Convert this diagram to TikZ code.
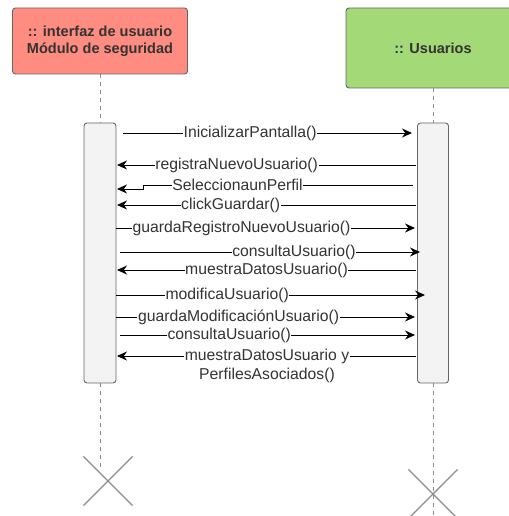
\documentclass[tikz,border=0pt]{standalone}
\usepackage{fontspec}
\setmainfont{Liberation Sans}
\usetikzlibrary{arrows.meta,shapes.misc}

\newlength{\du}
\setlength{\du}{0.75pt}

\definecolor{rojoobj}{HTML}{FF8C80}
\definecolor{verdeobj}{HTML}{A3D977}
\definecolor{bordegris}{HTML}{666666}
\definecolor{barragris}{HTML}{F3F3F3}
\definecolor{vidagris}{HTML}{8C8C8C}
\definecolor{textogris}{HTML}{333333}

\tikzset{
  objeto/.style={draw=bordegris, line width=0.9\du, rounded corners=3\du, inner sep=0pt,
    align=center, text=textogris, font=\fontsize{10.9pt}{12.8pt}\selectfont\bfseries},
  activacion/.style={draw=bordegris, fill=barragris, line width=0.9\du, rounded corners=3\du,
    minimum width=32\du, minimum height=260\du, inner sep=0pt},
  vida/.style={draw=vidagris, line width=0.8\du, dash pattern=on 4\du off 4\du},
  fin/.style={cross out, draw=vidagris, line width=1.2\du, minimum size=48\du, inner sep=0pt},
  mensaje/.style={draw=black, line width=0.9\du, -{Stealth[length=7.5pt,width=6.75pt]}},
  etiqueta/.style={fill=white, inner sep=0.6\du, text=textogris,
    font=\fontsize{11.8pt}{14.2pt}\selectfont},
}

\begin{document}
\begin{tikzpicture}
\pgftransformxscale{1.000000}
\pgftransformyscale{-1.000000}
\useasboundingbox (0\du,0\du) rectangle (508\du,516\du);
% objetos
\node[objeto, fill=rojoobj, minimum width=175\du, minimum height=66\du] (objInterfaz) at (100\du,41\du){:: interfaz de usuario\\Módulo de seguridad};
\node[objeto, fill=verdeobj, minimum width=174\du, minimum height=80\du] (objUsuarios) at (433\du,48\du){:: Usuarios};
% lineas de vida
\node[activacion] (actInterfaz) at (100\du,253\du){};
\node[activacion, minimum width=31\du] (actUsuarios) at (433\du,253\du){};
\coordinate (vidaFinI) at (100\du,468\du);
\coordinate (vidaFinU) at (433\du,520\du);
\draw[vida] (objInterfaz.south) -- (actInterfaz.north);
\draw[vida] (actInterfaz.south) -- (vidaFinI);
\draw[vida] (objUsuarios.south) -- (actUsuarios.north);
\draw[vida] (actUsuarios.south) -- (vidaFinU);
\node[fin] (finInterfaz) at (108\du,481\du){};
\node[fin] (finUsuarios) at (433\du,494\du){};
% mensajes
\coordinate (m1a) at (123\du,133\du);
\coordinate (m1b) at (412\du,133\du);
\draw[mensaje] (m1a) -- node[etiqueta, pos=0.44] (t1){InicializarPantalla()} (m1b);
\coordinate (m2a) at (416\du,165\du);
\coordinate (m2b) at (117\du,165\du);
\draw[mensaje] (m2a) -- node[etiqueta, pos=0.60] (t2){registraNuevoUsuario()} (m2b);
\coordinate (m3a) at (413\du,185\du);
\coordinate (m3k) at (143\du,185\du);
\coordinate (m3b) at (117\du,189\du);
\draw[mensaje] (m3a) -- node[etiqueta, pos=0.65] (t3){SeleccionaunPerfil} (m3k) |- (m3b);
\coordinate (m4a) at (416\du,205\du);
\coordinate (m4b) at (117\du,205\du);
\draw[mensaje] (m4a) -- node[etiqueta, pos=0.62] (t4){clickGuardar()} (m4b);
\coordinate (m5a) at (116\du,228\du);
\coordinate (m5b) at (415\du,228\du);
\draw[mensaje] (m5a) -- node[etiqueta, pos=0.42] (t5){guardaRegistroNuevoUsuario()} (m5b);
\coordinate (m6a) at (120\du,252\du);
\coordinate (m6b) at (420\du,252\du);
\draw[mensaje] (m6a) -- node[etiqueta, pos=0.58] (t6){consultaUsuario()} (m6b);
\coordinate (m7a) at (416\du,270\du);
\coordinate (m7b) at (117\du,270\du);
\draw[mensaje] (m7a) -- node[etiqueta, pos=0.50] (t7){muestraDatosUsuario()} (m7b);
\coordinate (m8a) at (116\du,295\du);
\coordinate (m8b) at (425\du,295\du);
\draw[mensaje] (m8a) -- node[etiqueta, pos=0.36] (t8){modificaUsuario()} (m8b);
\coordinate (m9a) at (116\du,317\du);
\coordinate (m9b) at (415\du,317\du);
\draw[mensaje] (m9a) -- node[etiqueta, pos=0.41] (t9){guardaModificaciónUsuario()} (m9b);
\coordinate (m10a) at (120\du,335\du);
\coordinate (m10b) at (415\du,335\du);
\draw[mensaje] (m10a) -- node[etiqueta, pos=0.37] (t10){consultaUsuario()} (m10b);
\coordinate (m11a) at (416\du,356\du);
\coordinate (m11b) at (117\du,356\du);
\draw[mensaje] (m11a) -- (m11b);
\node[etiqueta, align=center] (t11) at (267\du,365.5\du){muestraDatosUsuario y\\PerfilesAsociados()};
\end{tikzpicture}
\end{document}
